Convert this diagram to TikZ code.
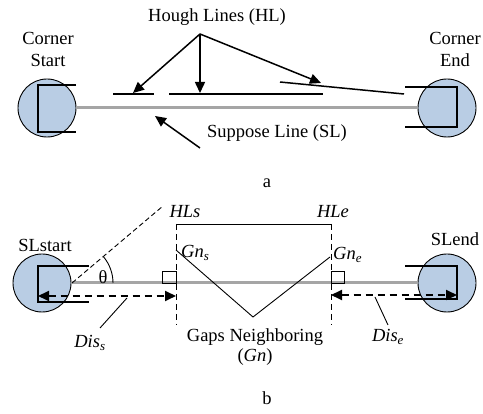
\documentclass[tikz,border=0pt]{standalone}
\usepackage{fontspec}
\setmainfont{Liberation Serif}
\usetikzlibrary{arrows.meta}
\definecolor{cornerblue}{RGB}{185,205,228}
\definecolor{slgray}{RGB}{165,165,165}
\begin{document}
\begin{tikzpicture}[x=1pt,y=-1pt,
  every node/.style={font=\fontsize{18.5}{22}\selectfont, inner sep=0pt},
  corner/.style={circle, draw=black, line width=0.9pt, fill=cornerblue, minimum size=58pt},
  boxline/.style={line width=1.3pt},
  grayline/.style={draw=slgray, line width=3pt},
  hough/.style={line width=1.5pt},
  ptr/.style={line width=1.5pt, -{Triangle[length=11pt,width=10pt]}},
  disarrow/.style={line width=1.8pt, dash pattern=on 7pt off 5pt, {Triangle[length=11pt,width=10pt]}-{Triangle[length=11pt,width=10pt]}},
  thin/.style={line width=0.9pt},
  vdash/.style={line width=1pt, dash pattern=on 6pt off 4pt}]
\useasboundingbox (0,0) rectangle (483,414);
% ---------------- panel a ----------------
\node[corner] (cs) at (47,108) {};
\node[corner] (ce) at (447,108) {};
\draw[boxline] (76,85) -- (38,85) -- (38,132) -- (76,132);
\draw[boxline] (405,87) -- (457,87) -- (457,127) -- (405,127);
\draw[grayline] (cs) -- (ce);
\node[align=center] (cstxt) at (48,49) {Corner\\Start};
\node[align=center] (cetxt) at (455,49) {Corner\\End};
\node (hl) at (217,17) {Hough Lines (HL)};
\coordinate (src) at (200,34);
\coordinate (h1a) at (113,94); \coordinate (h1b) at (154,94);
\coordinate (h2a) at (169,94); \coordinate (h2b) at (323,94);
\coordinate (h3a) at (280,82); \coordinate (h3b) at (404,94);
\draw[hough] (h1a) -- (h1b);
\draw[hough] (h2a) -- (h2b);
\draw[hough] (h3a) -- (h3b);
\coordinate (t1) at (133,93);
\coordinate (t2) at (200,93);
\coordinate (t3) at (321,83);
\draw[ptr] (src) -- (t1);
\draw[ptr] (src) -- (t2);
\draw[ptr] (src) -- (t3);
\node (sl) at (277,133) {Suppose Line (SL)};
\coordinate (slsrc) at (200,148);
\coordinate (sltip) at (155,116);
\draw[ptr] (slsrc) -- (sltip);
\node (la) at (267,183) {a};
% ---------------- panel b ----------------
\node[corner] (bs) at (42,283) {};
\node[corner] (be) at (447,283) {};
\draw[boxline] (89,266) -- (38,266) -- (38,302) -- (89,302);
\draw[boxline] (405,266) -- (457,266) -- (457,299) -- (405,299);
\draw[grayline] (bs) -- (be);
\node (slstart) at (45,245) {SLstart};
\node (slend) at (455,239) {SLend};
% angle
\coordinate (o) at (72,283);
\coordinate (dend) at (163,206);
\draw[thin, dash pattern=on 5pt off 3pt] (o) -- (dend);
\draw[thin] (113,283) arc[start angle=0, end angle=-40, radius=41];
\node (theta) at (103,277) {θ};
% bracket
\coordinate (bl) at (176,224); \coordinate (br) at (331,224);
\coordinate (bl2) at (176,325); \coordinate (br2) at (331,325);
\draw[thin] (bl) -- (br);
\draw[vdash] (bl) -- (bl2);
\draw[vdash] (br) -- (br2);
\node (hls) at (185,212) {\textit{HLs}};
\node (hle) at (333,212) {\textit{HLe}};
% right angle squares
\draw[thin] (162,271) rectangle (176,283);
\draw[thin] (331,271) rectangle (344,283);
% V shape
\coordinate (v1) at (176,250); \coordinate (v2) at (253,317); \coordinate (v3) at (330,257);
\draw[thin] (v1) -- (v2) -- (v3);
\node[anchor=west] (gns) at (181,253) {\textit{Gn\textsubscript{s}}};
\node[anchor=west] (gne) at (333,255) {\textit{Gn\textsubscript{e}}};
% distance arrows
\coordinate (dsa) at (38,296); \coordinate (dsb) at (176,296);
\coordinate (dea) at (331,295); \coordinate (deb) at (457,295);
\draw[disarrow] (dsa) -- (dsb);
\draw[disarrow] (dea) -- (deb);
\node (diss) at (90,343) {\textit{Dis\textsubscript{s}}};
\node (dise) at (388,337) {\textit{Dis\textsubscript{e}}};
\coordinate (ps) at (127,298); \coordinate (pe) at (375,297);
\draw[thin] (100,328) -- (ps);
\draw[thin] (388,325) -- (pe);
\node (gn) at (255,337) {Gaps Neighboring};
\node (gn2) at (255,357) {(\textit{Gn})};
\node (lb) at (267,398) {b};
\end{tikzpicture}
\end{document}
